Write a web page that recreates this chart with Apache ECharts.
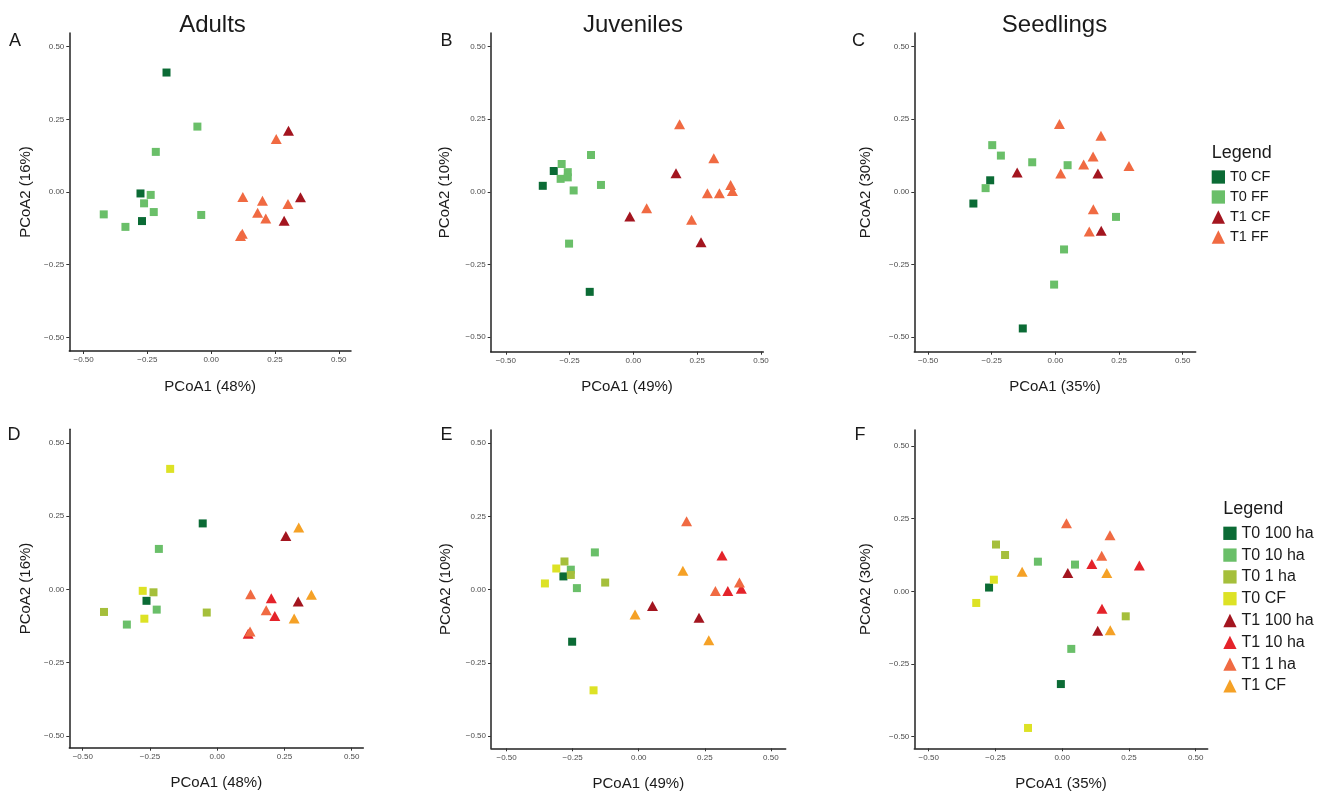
<!DOCTYPE html>
<html>
<head>
<meta charset="utf-8">
<title>PCoA</title>
<script src="https://cdn.jsdelivr.net/npm/echarts@6/dist/echarts.min.js"></script>
<style>
  html, body { margin: 0; padding: 0; background: #fff; }
  #main { width: 1328px; height: 792px; }
</style>
</head>
<body>
<div id="main"></div>
<script>
// ---- data ----
var stages = ['Adults', 'Juveniles', 'Seedlings'];
var panelLetters = ['A', 'B', 'C', 'D', 'E', 'F'];
var pcoa1Pct = ['48%', '49%', '35%'];
var pcoa2Pct = ['16%', '10%', '30%'];
var tickValues = [-0.5, -0.25, 0, 0.25, 0.5];
var forestGroups = ['T0 CF', 'T0 FF', 'T1 CF', 'T1 FF'];
var sizeGroups = ['T0 100 ha', 'T0 10 ha', 'T0 1 ha', 'T0 CF', 'T1 100 ha', 'T1 10 ha', 'T1 1 ha', 'T1 CF'];

// [PCoA1, PCoA2, time, fragment]
var adults = [
  [-0.175, 0.411, 'T0', 'CF'], [-0.277, -0.005, 'T0', 'CF'], [-0.271, -0.100, 'T0', 'CF'],
  [-0.054, 0.225, 'T0', '100 ha'], [-0.217, 0.138, 'T0', '10 ha'], [-0.237, -0.010, 'T0', '1 ha'],
  [-0.263, -0.039, 'T0', '100 ha'], [-0.225, -0.069, 'T0', '10 ha'], [-0.421, -0.077, 'T0', '1 ha'],
  [-0.336, -0.120, 'T0', '10 ha'], [-0.039, -0.079, 'T0', '1 ha'],
  [0.303, 0.211, 'T1', 'CF'], [0.350, -0.018, 'T1', 'CF'], [0.286, -0.099, 'T1', 'CF'],
  [0.255, 0.182, 'T1', '100 ha'], [0.124, -0.017, 'T1', '1 ha'], [0.201, -0.030, 'T1', '10 ha'],
  [0.301, -0.041, 'T1', '100 ha'], [0.182, -0.071, 'T1', '1 ha'], [0.214, -0.091, 'T1', '10 ha'],
  [0.122, -0.144, 'T1', '1 ha'], [0.115, -0.151, 'T1', '10 ha']
];
var juveniles = [
  [-0.355, 0.021, 'T0', 'CF'], [-0.312, 0.072, 'T0', 'CF'], [-0.171, -0.344, 'T0', 'CF'],
  [-0.281, 0.096, 'T0', '1 ha'], [-0.285, 0.045, 'T0', '100 ha'], [-0.257, 0.068, 'T0', '10 ha'],
  [-0.257, 0.050, 'T0', '1 ha'], [-0.166, 0.127, 'T0', '10 ha'], [-0.127, 0.024, 'T0', '1 ha'],
  [-0.234, 0.005, 'T0', '10 ha'], [-0.252, -0.178, 'T0', '100 ha'],
  [0.167, 0.064, 'T1', 'CF'], [-0.014, -0.085, 'T1', 'CF'], [0.265, -0.173, 'T1', 'CF'],
  [0.181, 0.233, 'T1', '1 ha'], [0.315, 0.116, 'T1', '10 ha'], [0.052, -0.056, 'T1', '100 ha'],
  [0.228, -0.096, 'T1', '100 ha'], [0.290, -0.005, 'T1', '1 ha'], [0.337, -0.005, 'T1', '10 ha'],
  [0.381, 0.024, 'T1', '1 ha'], [0.388, 0.003, 'T1', '10 ha']
];
var seedlings = [
  [-0.256, 0.040, 'T0', 'CF'], [-0.322, -0.040, 'T0', 'CF'], [-0.128, -0.470, 'T0', 'CF'],
  [-0.248, 0.161, 'T0', '1 ha'], [-0.214, 0.125, 'T0', '1 ha'], [-0.091, 0.102, 'T0', '10 ha'],
  [0.048, 0.092, 'T0', '10 ha'], [-0.274, 0.013, 'T0', '100 ha'], [0.238, -0.086, 'T0', '1 ha'],
  [0.034, -0.198, 'T0', '10 ha'], [-0.005, -0.319, 'T0', '100 ha'],
  [-0.150, 0.067, 'T1', 'CF'], [0.167, 0.063, 'T1', 'CF'], [0.180, -0.134, 'T1', 'CF'],
  [0.016, 0.234, 'T1', '1 ha'], [0.179, 0.193, 'T1', '1 ha'], [0.148, 0.122, 'T1', '1 ha'],
  [0.111, 0.094, 'T1', '10 ha'], [0.289, 0.089, 'T1', '10 ha'], [0.021, 0.063, 'T1', '100 ha'],
  [0.149, -0.060, 'T1', '10 ha'], [0.133, -0.136, 'T1', '100 ha']
];

// ---- styling ----
var colors = {
  'T0 CF': '#0b6b35', 'T0 FF': '#6abf69', 'T1 CF': '#a3151f', 'T1 FF': '#f06a42',
  'T0 100 ha': '#0b6b35', 'T0 10 ha': '#6abf69', 'T0 1 ha': '#a5bf3b', 'T0 CF ': '#dde225',
  'T1 100 ha': '#a3151f', 'T1 10 ha': '#e4232a', 'T1 1 ha': '#f06a42', 'T1 CF ': '#f5a126'
};
var FONT = 'Liberation Sans, Arial, sans-serif';
var TXT = '#1a1a1a';

// panel frames in px (axis line positions) and axis extents
var frames = [
  {l: 69.3, t: 33, r: 351, b: 351, x0: -0.556, x1: 0.548, y0: -0.547, y1: 0.547, gap: 36},
  {l: 490.7, t: 33, r: 763.3, b: 351.7, x0: -0.559, x1: 0.509, y0: -0.550, y1: 0.547, gap: 38},
  {l: 914.3, t: 33, r: 1195.7, b: 351.7, x0: -0.554, x1: 0.551, y0: -0.550, y1: 0.547, gap: 41},
  {l: 69.3, t: 429.3, r: 363.3, b: 747.7, x0: -0.550, x1: 0.543, y0: -0.540, y1: 0.546, gap: 36},
  {l: 491, t: 430, r: 785.7, b: 748.3, x0: -0.559, x1: 0.556, y0: -0.542, y1: 0.545, gap: 38},
  {l: 914.3, t: 430, r: 1207.7, b: 748.3, x0: -0.554, x1: 0.545, y0: -0.540, y1: 0.555, gap: 41}
];

function tickFmt(v) {
  return (v < 0 ? '\u2212' : '') + Math.abs(v).toFixed(2);
}

var myChart = echarts.init(document.getElementById('main'), null, {renderer: 'canvas'});
var stageData = [adults, juveniles, seedlings];
var grids = [], xAxes = [], yAxes = [], series = [];

frames.forEach(function (f, i) {
  var top = i < 3;
  var s = i % 3;
  grids.push({left: f.l, top: f.t, width: f.r - f.l, height: f.b - f.t, containLabel: false, outerBoundsMode: 'none'});
  xAxes.push({
    gridIndex: i, type: 'value', min: f.x0, max: f.x1,
    name: 'PCoA1 (' + pcoa1Pct[s] + ')', nameLocation: 'middle', nameGap: 28,
    nameTextStyle: {fontSize: 15, color: TXT, fontFamily: FONT},
    axisLine: {show: true, onZero: false, lineStyle: {color: '#222', width: 1.5}},
    axisTick: {show: true, customValues: tickValues, length: 3, lineStyle: {color: '#333'}},
    axisLabel: {customValues: tickValues, formatter: tickFmt, fontSize: 8, color: '#4d4d4d', margin: 5, fontFamily: FONT},
    splitLine: {show: false}
  });
  yAxes.push({
    gridIndex: i, type: 'value', min: f.y0, max: f.y1,
    name: 'PCoA2 (' + pcoa2Pct[s] + ')', nameLocation: 'middle', nameGap: f.gap,
    nameTextStyle: {fontSize: 15, color: TXT, fontFamily: FONT},
    axisLine: {show: true, onZero: false, lineStyle: {color: '#222', width: 1.5}},
    axisTick: {show: true, customValues: tickValues, length: 3, lineStyle: {color: '#333'}},
    axisLabel: {customValues: tickValues, formatter: tickFmt, fontSize: 8, color: '#4d4d4d', margin: 5, fontFamily: FONT},
    splitLine: {show: false}
  });
  var groups = top ? forestGroups : sizeGroups;
  groups.forEach(function (g) {
    var isT0 = g.indexOf('T0') === 0;
    var pts = stageData[s].filter(function (p) {
      var key = top ? p[2] + ' ' + (p[3] === 'CF' ? 'CF' : 'FF') : p[2] + ' ' + p[3];
      return key === g;
    });
    var colorKey = (!top && g.slice(-2) === 'CF') ? g + ' ' : g;
    series.push({
      type: 'scatter',
      name: top ? g : 'size:' + g,
      xAxisIndex: i, yAxisIndex: i,
      symbol: isT0 ? 'rect' : 'triangle',
      symbolSize: isT0 ? 8 : [11, 10],
      itemStyle: {color: colors[colorKey], opacity: 1},
      emphasis: {disabled: true},
      data: pts.map(function (p) { return [p[0], p[1]]; })
    });
  });
});

var texts = [];
[[212.5, 'Adults'], [633, 'Juveniles'], [1054.5, 'Seedlings']].forEach(function (t) {
  texts.push({type: 'text', x: t[0], y: 25, style: {text: t[1], fontSize: 24, fontFamily: FONT, fill: TXT, align: 'center', verticalAlign: 'middle'}});
});
[[15, 41.5], [446.5, 41.5], [858.5, 41.5], [14, 435], [446.5, 435], [860, 435]].forEach(function (p, k) {
  texts.push({type: 'text', x: p[0], y: p[1], style: {text: panelLetters[k], fontSize: 18, fontFamily: FONT, fill: TXT, align: 'center', verticalAlign: 'middle'}});
});
texts.push({type: 'text', x: 1211.7, y: 153, style: {text: 'Legend', fontSize: 18, fontFamily: FONT, fill: TXT, align: 'left', verticalAlign: 'middle'}});
texts.push({type: 'text', x: 1223.3, y: 509, style: {text: 'Legend', fontSize: 18, fontFamily: FONT, fill: TXT, align: 'left', verticalAlign: 'middle'}});

var option = {
  backgroundColor: '#fff',
  animation: false,
  grid: grids,
  xAxis: xAxes,
  yAxis: yAxes,
  legend: [
    {
      orient: 'vertical', left: 1211.7, top: 169.5, padding: 0,
      itemWidth: 13.3, itemHeight: 13.3, itemGap: 5.0, selectedMode: false,
      textStyle: {fontSize: 14.5, color: TXT, fontFamily: FONT},
      data: forestGroups.map(function (g) { return {name: g, icon: g.indexOf('T0') === 0 ? 'rect' : 'triangle'}; })
    },
    {
      orient: 'vertical', left: 1223.3, top: 525.3, padding: 0,
      itemWidth: 13.3, itemHeight: 13.3, itemGap: 5.8, selectedMode: false,
      textStyle: {fontSize: 16, color: TXT, fontFamily: FONT},
      formatter: function (n) { return n.replace('size:', ''); },
      data: sizeGroups.map(function (g) { return {name: 'size:' + g, icon: g.indexOf('T0') === 0 ? 'rect' : 'triangle'}; })
    }
  ],
  graphic: texts,
  series: series
};
myChart.setOption(option);
</script>
</body>
</html>
